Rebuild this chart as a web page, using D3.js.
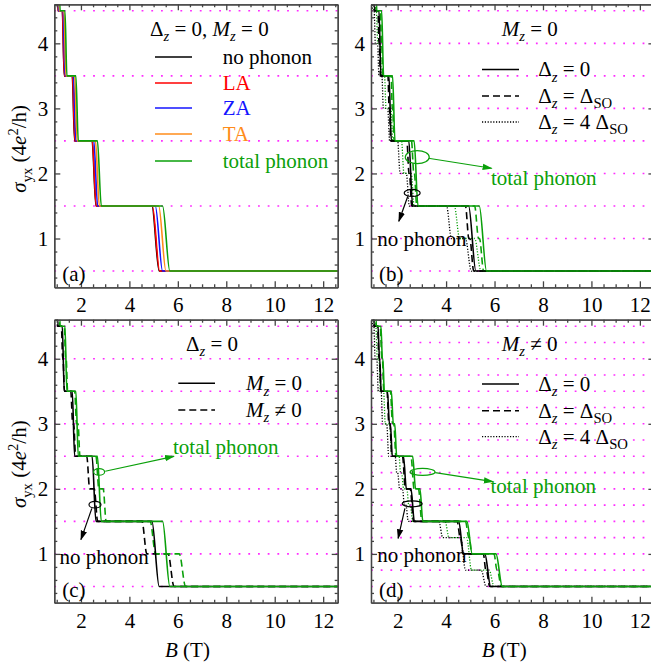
<!DOCTYPE html>
<html>
<head>
<meta charset="utf-8">
<script src="https://cdn.jsdelivr.net/npm/d3@7"></script>
<style>
  body { margin: 0; background: #fff; }
  text { font-family: "Liberation Serif", "Times New Roman", serif; }
</style>
</head>
<body>
<svg id="chart" width="651" height="669"></svg>
<script>
// Hall conductivity steps sigma_yx vs B, four panels (a)-(d)

// ---- axes ----
const xDomain = [0.9, 12.6];
const yDomain = [0.25, 4.6];
const xTickValues = [2, 4, 6, 8, 10, 12];
const yTickValues = [1, 2, 3, 4];
const xMinorTicks = [1, 1.5, 2.5, 3, 3.5, 4.5, 5, 5.5, 6.5, 7, 7.5, 8.5, 9, 9.5, 10.5, 11, 11.5, 12.5];
const yMinorTicks = [0.4, 0.6, 0.8, 1.2, 1.4, 1.6, 1.8, 2.2, 2.4, 2.6, 2.8, 3.2, 3.4, 3.6, 3.8, 4.2, 4.4, 4.6];

// dotted guide levels
const gridHalf = [0.5, 1.5, 2.5, 3.5, 4.5];
const gridHalfInt = [0.5, 1, 1.5, 2, 2.5, 3, 3.5, 4, 4.5];
const gridQuarter = [0.5, 0.75, 1, 1.25, 1.5, 1.75, 2, 2.25, 2.5, 2.75, 3, 3.25, 3.5, 3.75, 4, 4.25, 4.5];

// ---- curves: [B (T), sigma_yx] knots ----
// (a) Delta_z = 0, M_z = 0
const aNone  = [[0.85,5.5],[0.99,5.5],[1.05,4.5],[1.23,4.5],[1.31,3.5],[1.64,3.5],[1.74,2.5],[2.46,2.5],[2.62,1.5],[4.93,1.5],[5.23,0.5],[12.7,0.5]];
const aLA    = [[0.85,5.5],[0.99,5.5],[1.05,4.5],[1.235,4.5],[1.315,3.5],[1.65,3.5],[1.75,2.5],[2.47,2.5],[2.63,1.5],[4.95,1.5],[5.25,0.5],[12.7,0.5]];
const aZA    = [[0.85,5.5],[1.01,5.5],[1.07,4.5],[1.265,4.5],[1.345,3.5],[1.69,3.5],[1.79,2.5],[2.53,2.5],[2.69,1.5],[5.07,1.5],[5.37,0.5],[12.7,0.5]];
const aTA    = [[0.85,5.5],[1.04,5.5],[1.10,4.5],[1.30,4.5],[1.38,3.5],[1.74,3.5],[1.84,2.5],[2.60,2.5],[2.76,1.5],[5.21,1.5],[5.51,0.5],[12.7,0.5]];
const aTotal = [[0.85,5.5],[1.07,5.5],[1.14,4.5],[1.34,4.5],[1.42,3.5],[1.79,3.5],[1.89,2.5],[2.68,2.5],[2.84,1.5],[5.37,1.5],[5.67,0.5],[12.7,0.5]];

// (b) M_z = 0
const bNone0    = [[0.85,5.5],[0.99,5.5],[1.05,4.5],[1.23,4.5],[1.31,3.5],[1.64,3.5],[1.74,2.5],[2.46,2.5],[2.62,1.5],[4.93,1.5],[5.23,0.5],[12.7,0.5]];
const bNoneSO   = [[0.85,5.5],[0.97,5.5],[1.03,4.5],[1.19,4.5],[1.23,4.0],[1.24,4.0],[1.29,3.5],[1.60,3.5],[1.65,3.0],[1.66,3.0],[1.72,2.5],[2.38,2.5],[2.47,2.0],[2.49,2.0],[2.58,1.5],[4.80,1.5],[4.94,1.0],[4.98,1.0],[5.14,0.5],[12.7,0.5]];
const bNone4SO  = [[0.85,5.0],[0.92,5.0],[0.97,4.5],[1.03,4.5],[1.08,4.0],[1.17,4.0],[1.23,3.5],[1.35,3.5],[1.41,3.0],[1.59,3.0],[1.67,2.5],[2.0,2.5],[2.1,2.0],[2.36,2.0],[2.48,1.5],[4.02,1.5],[4.22,1.0],[4.8,1.0],[5.04,0.5],[12.7,0.5]];
const bTotal0   = [[0.85,5.5],[1.07,5.5],[1.14,4.5],[1.34,4.5],[1.42,3.5],[1.79,3.5],[1.89,2.5],[2.68,2.5],[2.84,1.5],[5.37,1.5],[5.67,0.5],[12.7,0.5]];
const bTotalSO  = [[0.85,5.5],[1.05,5.5],[1.11,4.5],[1.29,4.5],[1.33,4.0],[1.34,4.0],[1.39,3.5],[1.73,3.5],[1.78,3.0],[1.79,3.0],[1.86,2.5],[2.57,2.5],[2.67,2.0],[2.69,2.0],[2.79,1.5],[5.18,1.5],[5.34,1.0],[5.38,1.0],[5.55,0.5],[12.7,0.5]];
const bTotal4SO = [[0.85,5.0],[0.99,5.0],[1.04,4.5],[1.12,4.5],[1.18,4.0],[1.27,4.0],[1.33,3.5],[1.46,3.5],[1.52,3.0],[1.72,3.0],[1.8,2.5],[2.16,2.5],[2.26,2.0],[2.56,2.0],[2.68,1.5],[4.34,1.5],[4.56,1.0],[5.18,1.0],[5.44,0.5],[12.7,0.5]];

// (c) Delta_z = 0
const cNoneM0  = [[0.85,5.5],[0.99,5.5],[1.05,4.5],[1.23,4.5],[1.31,3.5],[1.64,3.5],[1.74,2.5],[2.46,2.5],[2.62,1.5],[4.93,1.5],[5.23,0.5],[12.7,0.5]];
const cNoneM1  = [[0.85,5.5],[0.97,5.5],[1.03,4.5],[1.19,4.5],[1.25,4.0],[1.26,4.0],[1.32,3.5],[1.58,3.5],[1.66,3.0],[1.70,3.0],[1.78,2.5],[2.24,2.5],[2.36,2.0],[2.55,2.0],[2.69,1.5],[4.52,1.5],[4.72,1.0],[5.6,1.0],[5.84,0.5],[12.7,0.5]];
const cTotalM0 = [[0.85,5.5],[1.07,5.5],[1.14,4.5],[1.34,4.5],[1.42,3.5],[1.79,3.5],[1.89,2.5],[2.68,2.5],[2.84,1.5],[5.37,1.5],[5.67,0.5],[12.7,0.5]];
const cTotalM1 = [[0.85,5.5],[1.06,5.5],[1.12,4.5],[1.31,4.5],[1.37,4.0],[1.39,4.0],[1.45,3.5],[1.74,3.5],[1.82,3.0],[1.88,3.0],[1.96,2.5],[2.62,2.5],[2.74,2.0],[2.92,2.0],[3.04,1.5],[4.86,1.5],[5.08,1.0],[6.06,1.0],[6.32,0.5],[12.7,0.5]];

// (d) M_z != 0
const dNone0    = [[0.85,5.5],[0.97,5.5],[1.03,4.5],[1.19,4.5],[1.25,4.0],[1.26,4.0],[1.32,3.5],[1.58,3.5],[1.66,3.0],[1.70,3.0],[1.78,2.5],[2.24,2.5],[2.36,2.0],[2.55,2.0],[2.69,1.5],[4.52,1.5],[4.72,1.0],[5.6,1.0],[5.84,0.5],[12.7,0.5]];
const dNoneSO   = [[0.85,5.5],[0.96,5.5],[1.02,4.5],[1.17,4.5],[1.23,4.0],[1.25,4.0],[1.31,3.5],[1.56,3.5],[1.64,3.0],[1.68,3.0],[1.76,2.5],[2.2,2.5],[2.32,2.0],[2.52,2.0],[2.66,1.5],[4.46,1.5],[4.58,1.25],[4.6,1.25],[4.7,1.0],[5.54,1.0],[5.64,0.75],[5.66,0.75],[5.8,0.5],[12.7,0.5]];
const dNone4SO  = [[0.85,5.0],[0.92,5.0],[0.97,4.5],[1.02,4.5],[1.07,4.0],[1.14,4.0],[1.2,3.5],[1.32,3.5],[1.38,3.0],[1.55,3.0],[1.63,2.5],[1.9,2.5],[1.96,2.25],[2.0,2.25],[2.08,2.0],[2.2,2.0],[2.28,1.75],[2.34,1.75],[2.44,1.5],[3.7,1.5],[3.86,1.25],[4.6,1.25],[4.8,0.75],[5.45,0.75],[5.65,0.5],[12.7,0.5]];
const dTotal0   = [[0.85,5.5],[1.06,5.5],[1.12,4.5],[1.31,4.5],[1.37,4.0],[1.39,4.0],[1.45,3.5],[1.74,3.5],[1.82,3.0],[1.88,3.0],[1.96,2.5],[2.62,2.5],[2.74,2.0],[2.92,2.0],[3.04,1.5],[4.86,1.5],[5.08,1.0],[6.06,1.0],[6.32,0.5],[12.7,0.5]];
const dTotalSO  = [[0.85,5.5],[1.05,5.5],[1.11,4.5],[1.28,4.5],[1.35,4.0],[1.37,4.0],[1.43,3.5],[1.7,3.5],[1.79,3.0],[1.84,3.0],[1.93,2.5],[2.55,2.5],[2.68,2.0],[2.86,2.0],[3.0,1.5],[4.8,1.5],[4.94,1.25],[4.96,1.25],[5.06,1.0],[5.98,1.0],[6.1,0.75],[6.12,0.75],[6.28,0.5],[12.7,0.5]];
const dTotal4SO = [[0.85,5.0],[0.99,5.0],[1.04,4.5],[1.1,4.5],[1.16,4.0],[1.23,4.0],[1.29,3.5],[1.42,3.5],[1.49,3.0],[1.67,3.0],[1.76,2.5],[2.06,2.5],[2.12,2.25],[2.16,2.25],[2.25,2.0],[2.38,2.0],[2.46,1.75],[2.52,1.75],[2.63,1.5],[3.96,1.5],[4.12,1.25],[4.85,1.25],[5.05,0.75],[5.78,0.75],[5.98,0.5],[12.7,0.5]];

// ---- text (segments: [text, flags]; i italic, s subscript, S superscript) ----
const aLegendTitle = [["Δ"],["z","is"],[" = 0, "],["M","i"],["z","is"],[" = 0"]];
const aLegendLabels = [[["no phonon"]], [["LA"]], [["ZA"]], [["TA"]], [["total phonon"]]];
const bLegendTitle = [["M","i"],["z","is"],[" = 0"]];
const dzLabels = [
  [["Δ"],["z","is"],[" = 0"]],
  [["Δ"],["z","is"],[" = Δ"],["SO","s"]],
  [["Δ"],["z","is"],[" = 4 Δ"],["SO","s"]]
];
const cLegendTitle = [["Δ"],["z","is"],[" = 0"]];
const mzLabels = [
  [["M","i"],["z","is"],[" = 0"]],
  [["M","i"],["z","is"],[" ≠ 0"]]
];
const dLegendTitle = [["M","i"],["z","is"],[" ≠ 0"]];
const yTitle = [["σ","i"],["yx","s"],[" (4"],["e","i"],["2","S"],["/h)"]];
const xTitle = [["B","i"],[" (T)"]];

// ---- styles ----
const BLACK = "#000000", RED = "#ff0000", BLUE = "#1414ff", ORANGE = "#ff8c1a", GREEN = "#0aa00a";
const SOLID = null, DASH = "7,4", DOT = "1.2,1.6";

const svg = d3.select("#chart");
const W = 283.4, H = 283;
const FONT = 21;

const defs = svg.append("defs");
[["arrBlack", BLACK], ["arrGreen", GREEN]].forEach(([id, c]) => {
  defs.append("marker").attr("id", id)
    .attr("viewBox", "0 -4 10 8").attr("refX", 9).attr("refY", 0)
    .attr("markerWidth", 10).attr("markerHeight", 8)
    .attr("markerUnits", "userSpaceOnUse").attr("orient", "auto")
    .append("path").attr("d", "M0,-3.2L10,0L0,3.2Z").attr("fill", c);
});

function rich(sel, segs, size) {
  let shift = 0;
  segs.forEach(([t, f = ""]) => {
    const sub = f.includes("s"), sup = f.includes("S");
    const want = sub ? size * 0.26 : sup ? -size * 0.38 : 0;
    const ts = sel.append("tspan").attr("dy", want - shift).text(t);
    if (f.includes("i")) ts.attr("font-style", "italic");
    if (sub || sup) ts.attr("font-size", size * 0.7);
    shift = want;
  });
  return sel;
}

function drawPanel(p) {
  const g = svg.append("g").attr("transform", `translate(${p.left},${p.top})`);
  const x = d3.scaleLinear().domain(xDomain).range([0, W]);
  const y = d3.scaleLinear().domain(yDomain).range([H, 0]);

  const clipId = "clip" + p.name;
  defs.append("clipPath").attr("id", clipId)
    .append("rect").attr("width", W).attr("height", H);

  // dotted magenta guides
  g.append("g").selectAll("line").data(p.grid).join("line")
    .attr("x1", 0).attr("x2", W)
    .attr("y1", d => y(d)).attr("y2", d => y(d))
    .attr("stroke", "#ff2bff").attr("stroke-width", 1.6)
    .attr("stroke-dasharray", "1.8,7.9");

  // curves
  const line = d3.line().x(d => x(d[0])).y(d => y(d[1])).curve(d3.curveMonotoneX);
  g.append("g").attr("clip-path", `url(#${clipId})`)
    .selectAll("path").data(p.curves).join("path")
    .attr("d", d => line(d.data))
    .attr("fill", "none")
    .attr("stroke", d => d.color)
    .attr("stroke-width", d => d.dash === DOT ? 1.3 : 1.6)
    .attr("stroke-dasharray", d => d.dash);

  // axes: inward ticks on all sides
  const frame = "#444";
  const fmt = d3.format("d");
  const axes = [
    [d3.axisBottom(x).tickValues(xTickValues).tickSize(-6).tickPadding(10).tickFormat(fmt).tickSizeOuter(0), `translate(0,${H})`, true],
    [d3.axisBottom(x).tickValues(xMinorTicks).tickSize(-3).tickFormat("").tickSizeOuter(0), `translate(0,${H})`, false],
    [d3.axisTop(x).tickValues(xTickValues).tickSize(-6).tickFormat("").tickSizeOuter(0), null, false],
    [d3.axisTop(x).tickValues(xMinorTicks).tickSize(-3).tickFormat("").tickSizeOuter(0), null, false],
    [d3.axisLeft(y).tickValues(yTickValues).tickSize(-6).tickPadding(6).tickFormat(fmt).tickSizeOuter(0), null, true],
    [d3.axisLeft(y).tickValues(yMinorTicks).tickSize(-3).tickFormat("").tickSizeOuter(0), null, false],
    [d3.axisRight(y).tickValues(yTickValues).tickSize(-6).tickFormat("").tickSizeOuter(0), `translate(${W},0)`, false],
    [d3.axisRight(y).tickValues(yMinorTicks).tickSize(-3).tickFormat("").tickSizeOuter(0), `translate(${W},0)`, false]
  ];
  axes.forEach(([ax, tr, labels]) => {
    const a = g.append("g").call(ax);
    if (tr) a.attr("transform", tr);
    a.selectAll("path,line").attr("stroke", frame).attr("stroke-width", 1.3);
    a.selectAll("text").attr("font-family", '"Liberation Serif", serif')
      .attr("font-size", FONT).attr("fill", "#000");
    if (!labels) a.selectAll("text").remove();
  });

  // legend
  const lg = g.append("g");
  rich(lg.append("text").attr("x", p.legend.titleX).attr("y", p.legend.titleY)
    .attr("font-size", FONT), p.legend.title, FONT);
  p.legend.rows.forEach((r, i) => {
    const ly = p.legend.rowY[i];
    lg.append("line").attr("x1", p.legend.lineX[0]).attr("x2", p.legend.lineX[1])
      .attr("y1", ly).attr("y2", ly)
      .attr("stroke", r.color).attr("stroke-width", r.dash === DOT ? 1.3 : 1.6)
      .attr("stroke-dasharray", r.dash);
    rich(lg.append("text").attr("x", p.legend.textX).attr("y", ly + 7)
      .attr("font-size", FONT).attr("fill", r.textColor || "#000"), r.label, FONT);
  });

  // annotations (ellipse + arrow + label) in data coordinates
  (p.notes || []).forEach(n => {
    g.append("ellipse").attr("cx", x(n.ell[0])).attr("cy", y(n.ell[1]))
      .attr("rx", n.r[0]).attr("ry", n.r[1])
      .attr("fill", "none").attr("stroke", n.color).attr("stroke-width", 1.2);
    g.append("line").attr("x1", x(n.from[0])).attr("y1", y(n.from[1]))
      .attr("x2", x(n.to[0])).attr("y2", y(n.to[1]))
      .attr("stroke", n.color).attr("stroke-width", 1.2)
      .attr("marker-end", `url(#${n.color === GREEN ? "arrGreen" : "arrBlack"})`);
    g.append("text").attr("x", x(n.text[0])).attr("y", y(n.text[1]))
      .attr("font-size", FONT).attr("fill", n.color).text(n.label);
  });

  // panel letter
  g.append("text").attr("x", 8).attr("y", H - 6).attr("font-size", FONT).text(p.letter);

  // axis titles
  if (p.yTitle) {
    rich(g.append("text").attr("text-anchor", "middle").attr("font-size", FONT)
      .attr("transform", `translate(-28,${H / 2 + 3}) rotate(-90)`), yTitle, FONT);
  }
  if (p.xTitle) {
    rich(g.append("text").attr("text-anchor", "middle").attr("font-size", FONT)
      .attr("x", W * 0.47).attr("y", H + 54), xTitle, FONT);
  }
}

const panels = [
  {
    name: "a", letter: "(a)", left: 54.3, top: 4.3, grid: gridHalf, yTitle: true,
    curves: [
      { data: aNone, color: BLACK, dash: SOLID },
      { data: aLA, color: RED, dash: SOLID },
      { data: aZA, color: BLUE, dash: SOLID },
      { data: aTA, color: ORANGE, dash: SOLID },
      { data: aTotal, color: GREEN, dash: SOLID }
    ],
    legend: {
      title: aLegendTitle, titleX: 95.7, titleY: 31.7,
      lineX: [100.7, 137.7], textX: 168.4, rowY: [52.7, 78.7, 103.7, 129.7, 156.7],
      rows: [
        { label: aLegendLabels[0], color: BLACK, dash: SOLID },
        { label: aLegendLabels[1], color: RED, dash: SOLID, textColor: RED },
        { label: aLegendLabels[2], color: BLUE, dash: SOLID, textColor: BLUE },
        { label: aLegendLabels[3], color: ORANGE, dash: SOLID, textColor: ORANGE },
        { label: aLegendLabels[4], color: GREEN, dash: SOLID, textColor: GREEN }
      ]
    }
  },
  {
    name: "b", letter: "(b)", left: 371, top: 4.3, grid: gridHalfInt,
    curves: [
      { data: bNone4SO, color: BLACK, dash: DOT },
      { data: bTotal4SO, color: GREEN, dash: DOT },
      { data: bNoneSO, color: BLACK, dash: DASH },
      { data: bTotalSO, color: GREEN, dash: DASH },
      { data: bNone0, color: BLACK, dash: SOLID },
      { data: bTotal0, color: GREEN, dash: SOLID }
    ],
    legend: {
      title: bLegendTitle, titleX: 130.7, titleY: 31.7,
      lineX: [111, 148], textX: 167.3, rowY: [65.2, 91.7, 117.7],
      rows: [
        { label: dzLabels[0], color: BLACK, dash: SOLID },
        { label: dzLabels[1], color: BLACK, dash: DASH },
        { label: dzLabels[2], color: BLACK, dash: DOT }
      ]
    },
    notes: [
      { color: GREEN, ell: [2.81, 2.25], r: [12, 6.5], from: [3.27, 2.234], to: [5.88, 2.08], text: [5.85, 1.83], label: "total phonon" },
      { color: BLACK, ell: [2.6, 1.70], r: [8, 3.5], from: [2.42, 1.65], to: [2.05, 1.265], text: [1.16, 0.88], label: "no phonon" }
    ]
  },
  {
    name: "c", letter: "(c)", left: 54.3, top: 319.7, grid: gridHalfInt, yTitle: true, xTitle: true,
    curves: [
      { data: cNoneM1, color: BLACK, dash: DASH },
      { data: cTotalM1, color: GREEN, dash: DASH },
      { data: cNoneM0, color: BLACK, dash: SOLID },
      { data: cTotalM0, color: GREEN, dash: SOLID }
    ],
    legend: {
      title: cLegendTitle, titleX: 131.7, titleY: 31.3,
      lineX: [124, 160.7], textX: 191.7, rowY: [63.6, 90.3],
      rows: [
        { label: mzLabels[0], color: BLACK, dash: SOLID },
        { label: mzLabels[1], color: BLACK, dash: DASH }
      ]
    },
    notes: [
      { color: GREEN, ell: [2.75, 2.26], r: [5.5, 3.3], from: [3.0, 2.27], to: [5.84, 2.5], text: [5.8, 2.54], label: "total phonon" },
      { color: BLACK, ell: [2.58, 1.756], r: [6, 3.3], from: [2.45, 1.70], to: [2.0, 1.22], text: [1.11, 0.85], label: "no phonon" }
    ]
  },
  {
    name: "d", letter: "(d)", left: 371, top: 319.7, grid: gridQuarter, xTitle: true,
    curves: [
      { data: dNone4SO, color: BLACK, dash: DOT },
      { data: dTotal4SO, color: GREEN, dash: DOT },
      { data: dNoneSO, color: BLACK, dash: DASH },
      { data: dTotalSO, color: GREEN, dash: DASH },
      { data: dNone0, color: BLACK, dash: SOLID },
      { data: dTotal0, color: GREEN, dash: SOLID }
    ],
    legend: {
      title: dLegendTitle, titleX: 130.7, titleY: 31.3,
      lineX: [111, 148], textX: 167.3, rowY: [64.3, 91, 117],
      rows: [
        { label: dzLabels[0], color: BLACK, dash: SOLID },
        { label: dzLabels[1], color: BLACK, dash: DASH },
        { label: dzLabels[2], color: BLACK, dash: DOT }
      ]
    },
    notes: [
      { color: GREEN, ell: [3.03, 2.26], r: [12.5, 3.5], from: [3.55, 2.25], to: [5.93, 2.11], text: [5.83, 1.94], label: "total phonon" },
      { color: BLACK, ell: [2.6, 1.77], r: [10, 3], from: [2.3, 1.70], to: [2.02, 1.24], text: [1.16, 0.88], label: "no phonon" }
    ]
  }
];

panels.forEach(drawPanel);
</script>
</body>
</html>
